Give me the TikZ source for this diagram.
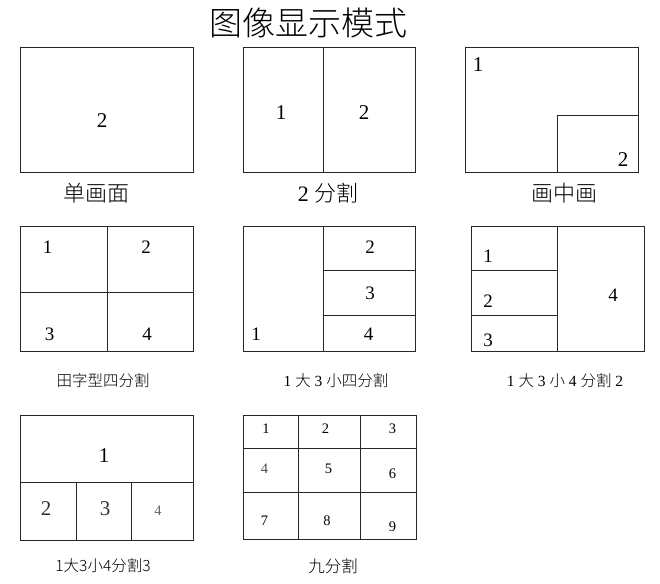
\documentclass[tikz,border=0pt]{standalone}
\usepackage{fontspec}
\setmainfont{Liberation Serif}
\newfontfamily\cjk{Noto Sans CJK SC Light}
\begin{document}
\begin{tikzpicture}[x=1pt,y=-1pt,
  frame/.style={draw=black!85,line width=1pt},
  divline/.style={draw=black!85,line width=1pt},
  big/.style={inner sep=0pt,font=\fontsize{21}{21}\selectfont},
  mid/.style={inner sep=0pt,font=\fontsize{19}{19}\selectfont},
  small/.style={inner sep=0pt,font=\fontsize{14.5}{14.5}\selectfont},
  captext/.style={inner sep=0pt,font=\fontsize{22}{22}\selectfont},
  capsm/.style={inner sep=0pt,font=\fontsize{15.5}{15.5}\selectfont},
]
\useasboundingbox (0,0) rectangle (660,583);
% title
\node[inner sep=0pt,font=\cjk\fontsize{33}{33}\selectfont] (title) at (308,23) {图像显示模式};

% Row 1
\draw[frame] (20,48) rectangle (193,172);
\node[big] (a2) at (102,121) {2};
\node[captext] (ca) at (96,193) {\cjk 单画面};

\draw[frame] (243,48) rectangle (415,172);
\draw[divline] (323,48) -- (323,172);
\node[big] (b1) at (281,113) {1};
\node[big] (b2) at (364,113) {2};
\node[captext] (cb) at (328,193) {2 {\cjk 分割}};

\draw[frame] (465,48) rectangle (638,172);
\draw[divline] (557,172) |- (638,115);
\node[big] (c1) at (478,65) {1};
\node[big] (c2) at (623,160) {2};
\node[captext] (cc) at (564,193) {\cjk 画中画};

% Row 2
\draw[frame] (20,226) rectangle (193,351);
\draw[divline] (107,226) -- (107,351);
\draw[divline] (20,292) -- (193,292);
\node[mid] (d1) at (47.5,247) {1};
\node[mid] (d2) at (146,247) {2};
\node[mid] (d3) at (49.5,334) {3};
\node[mid] (d4) at (147,334) {4};
\node[capsm] (cd) at (103,381) {\cjk 田字型四分割};

\draw[frame] (243,226) rectangle (415,351);
\draw[divline] (323,226) -- (323,351);
\draw[divline] (323,270) -- (415,270);
\draw[divline] (323,315) -- (415,315);
\node[mid] (e2) at (370,247) {2};
\node[mid] (e3) at (370,293) {3};
\node[mid] (e4) at (368.5,334) {4};
\node[mid] (e1) at (256,334) {1};
\node[capsm] (ce) at (336,381) {1 {\cjk 大} 3 {\cjk 小四分割}};

\draw[frame] (471,226) rectangle (644,351);
\draw[divline] (557,226) -- (557,351);
\draw[divline] (471,270) -- (557,270);
\draw[divline] (471,315) -- (557,315);
\node[mid] (f1) at (488,256) {1};
\node[mid] (f2) at (488,301) {2};
\node[mid] (f3) at (488,340) {3};
\node[mid] (f4) at (613,295) {4};
\node[capsm] (cf) at (565,381) {1 {\cjk 大} 3 {\cjk 小} 4 {\cjk 分割} 2};

% Row 3
\draw[frame] (20.5,415) rectangle (193,540);
\draw[divline] (20.5,482) -- (193,482);
\draw[divline] (76,482) -- (76,540);
\draw[divline] (131.5,482) -- (131.5,540);
\node[big] (g1) at (104,456) {1};
\node[big,text=black!80] (g2) at (46,509) {2};
\node[big,text=black!80] (g3) at (105,509) {3};
\node[small,text=black!60] (g4) at (158,511) {4};
\node[inner sep=0pt,font=\cjk\fontsize{15.5}{15.5}\selectfont] (cg) at (103,566) {1大3小4分割3};

\draw[frame] (243,415) rectangle (416,539.5);
\draw[divline] (298.5,415) -- (298.5,539.5);
\draw[divline] (360.5,415) -- (360.5,539.5);
\draw[divline] (243,448.5) -- (416,448.5);
\draw[divline] (243,492.5) -- (416,492.5);
\node[small] (h1) at (266,428.5) {1};
\node[small] (h2) at (325.5,428.5) {2};
\node[small] (h3) at (392.5,428.5) {3};
\node[small,text=black!70] (h4) at (264.5,468.5) {4};
\node[small] (h5) at (328.5,468.5) {5};
\node[small] (h6) at (392.5,473.5) {6};
\node[small] (h7) at (264.5,521) {7};
\node[small] (h8) at (327,521) {8};
\node[small] (h9) at (392.5,527) {9};
\node[inner sep=0pt,font=\cjk\fontsize{16.5}{16.5}\selectfont] (ch) at (333,566) {九分割};
\end{tikzpicture}
\end{document}
